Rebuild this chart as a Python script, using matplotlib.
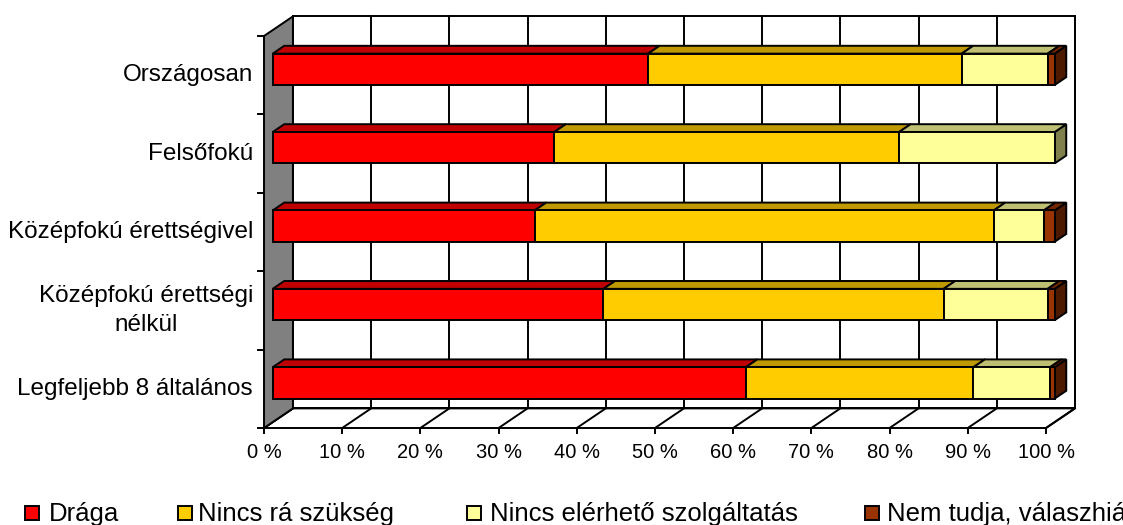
import matplotlib
matplotlib.use('Agg')
import matplotlib.pyplot as plt
from matplotlib.patches import Polygon
import numpy as np

plt.rcParams['font.family'] = ['Liberation Sans', 'DejaVu Sans']

# categories from bottom to top
categories = ['Legfeljebb 8 általános', 'Középfokú érettségi\nnélkül',
              'Középfokú érettségivel', 'Felsőfokú', 'Országosan']
draga = [60.5, 42.3, 33.5, 36.0, 48.0]
nincs_ra = [29.1, 43.5, 58.7, 44.1, 40.1]
nincs_elerheto = [9.8, 13.3, 6.4, 19.9, 11.0]
nem_tudja = [0.6, 0.9, 1.4, 0.0, 0.9]
series_names = ['Drága', 'Nincs rá szükség', 'Nincs elérhető szolgáltatás',
                'Nem tudja, válaszhiány']
x_ticks = np.arange(0, 101, 10)
x_tick_labels = ['{} %'.format(t) for t in x_ticks]

front_colors = ['#FF0000', '#FFCC00', '#FFFF99', '#993300']
top_colors = ['#C00000', '#BF9900', '#BFBF73', '#732600']
side_colors = ['#800000', '#806600', '#80804D', '#4D1A00']

# layout (pixels -> data units)
PX_X = 7.82   # pixels per percent
PX_Y = 78.4   # pixels per category slot
DX, DY = 3.7, 0.25   # depth of the 3d box
F0, F1 = 0.3, 0.7    # bar position inside the depth
BAR_H = 0.4
LW = 1.4


def addPoly(ax, pts, fc, z):
    ax.add_patch(Polygon(pts, closed=True, facecolor=fc, edgecolor='black',
                         lw=LW, zorder=z, joinstyle='miter'))


def drawBox(ax, n):
    """Back wall, floor and the grey side wall."""
    addPoly(ax, [(DX, DY), (100 + DX, DY), (100 + DX, n + DY), (DX, n + DY)], 'white', 1)
    for t in x_ticks:
        ax.plot([t + DX, t + DX], [DY, n + DY], color='black', lw=LW, zorder=2)
    addPoly(ax, [(0, 0), (100, 0), (100 + DX, DY), (DX, DY)], 'white', 3)
    for t in x_ticks:
        ax.plot([t, t + DX], [0, DY], color='black', lw=LW, zorder=4)
        ax.plot([t, t], [0, -5 / PX_Y], color='black', lw=LW, zorder=4)
    addPoly(ax, [(0, 0), (DX, DY), (DX, n + DY), (0, n)], '#808080', 4)
    for i in range(n + 1):
        ax.plot([-6 / PX_X, 0], [i, i], color='black', lw=LW, zorder=4)


def drawBars(ax, series):
    ddx = (F1 - F0) * DX
    ddy = (F1 - F0) * DY
    for i in range(len(categories)):
        left = 0
        yc = i + 0.5
        for s in range(len(series)):
            w = series[s][i]
            if w <= 0:
                continue
            x0 = left + F0 * DX
            x1 = x0 + w
            y0 = yc - BAR_H / 2 + F0 * DY
            y1 = yc + BAR_H / 2 + F0 * DY
            z = 10 + s
            addPoly(ax, [(x1, y0), (x1 + ddx, y0 + ddy), (x1 + ddx, y1 + ddy), (x1, y1)], side_colors[s], z)
            addPoly(ax, [(x0, y1), (x1, y1), (x1 + ddx, y1 + ddy), (x0 + ddx, y1 + ddy)], top_colors[s], z)
            addPoly(ax, [(x0, y0), (x1, y0), (x1, y1), (x0, y1)], front_colors[s], z)
            left += w


def drawLabels(ax):
    for i, cat in enumerate(categories):
        ax.text(-11 / PX_X, i + 0.5, cat, ha='right', va='center', fontsize=17.5,
                multialignment='center', linespacing=1.45)
    for t, lab in zip(x_ticks, x_tick_labels):
        ax.text(t, -(452 - 428) / PX_Y, lab, ha='center', va='center', fontsize=14.5)


def drawLegend(ax):
    sq_px = [25, 178, 467, 865]
    txt_px = [49, 198, 490, 887]
    sq = 14
    for k in range(len(series_names)):
        x = (sq_px[k] - 264) / PX_X
        y = (428 - 520) / PX_Y
        ax.add_patch(plt.Rectangle((x, y), sq / PX_X, sq / PX_Y, facecolor=front_colors[k],
                                   edgecolor='black', lw=LW, zorder=5, clip_on=False))
        ax.text((txt_px[k] - 264) / PX_X, (428 - 521) / PX_Y, series_names[k],
                ha='left', va='baseline', fontsize=18.5)


fig = plt.figure(figsize=(11.23, 5.25), dpi=100)
ax = fig.add_axes([0, 0, 1, 1])
ax.set_xlim(-264 / PX_X, (1123 - 264) / PX_X)
ax.set_ylim(-(525 - 428) / PX_Y, 428 / PX_Y)
ax.axis('off')

drawBox(ax, len(categories))
drawBars(ax, [draga, nincs_ra, nincs_elerheto, nem_tudja])
drawLabels(ax)
drawLegend(ax)

fig.savefig('out.png', dpi=100)
